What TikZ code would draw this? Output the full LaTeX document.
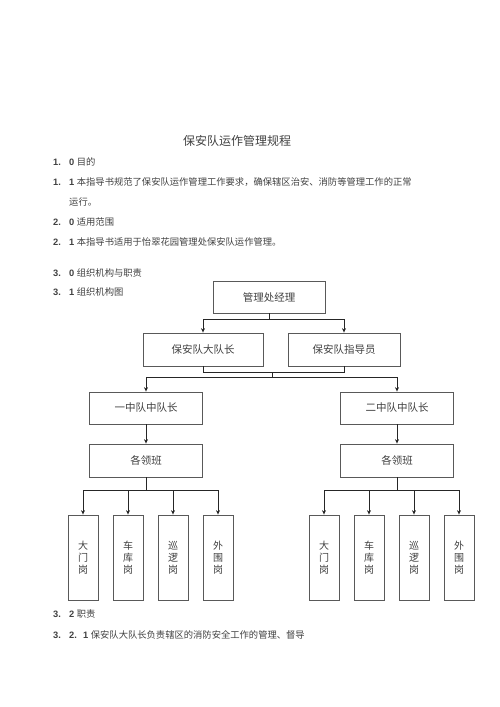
\documentclass[tikz,border=0pt]{standalone}
\usepackage{fontspec}
\setmainfont{Liberation Serif}
\newfontfamily\cjk{Noto Sans CJK SC}
\newfontfamily\numf{Liberation Sans}
\usetikzlibrary{arrows.meta}
\newcommand\nb[1]{\makebox[16pt][l]{\numf\bfseries #1}}
\newcommand\nd[1]{{\numf\bfseries #1}\hspace{2.5pt}}
\tikzset{
  x=1pt,y=-1pt,
  txt/.style={anchor=west,inner sep=0pt,font=\cjk\fontsize{9.3}{11}\selectfont,text=black!75},
  box/.style={draw=black!65,line width=0.8pt,inner sep=0pt,font=\cjk\fontsize{10.5}{12}\selectfont,text=black!75},
  tall/.style={box,minimum width=30pt,minimum height=85pt,align=center,font=\cjk\fontsize{10}{12}\selectfont},
  conn/.style={draw=black!85,line width=1pt},
  arr/.style={conn,-{Stealth[length=4.5pt,width=4pt]}}
}
\begin{document}
\begin{tikzpicture}
\useasboundingbox (0,0) rectangle (500,707);
% text
\node[anchor=center,inner sep=0pt,font=\cjk\fontsize{12}{14}\selectfont,text=black!75] (title) at (237,141) {保安队运作管理规程};
\node[txt] (t1) at (53,162) {\nb{1.}\nd{0}目的};
\node[txt] (t2) at (53,182) {\nb{1.}\nd{1}本指导书规范了保安队运作管理工作要求，确保辖区治安、消防等管理工作的正常};
\node[txt] (t3) at (69,202) {运行。};
\node[txt] (t4) at (53,222) {\nb{2.}\nd{0}适用范围};
\node[txt] (t5) at (53,242) {\nb{2.}\nd{1}本指导书适用于怡翠花园管理处保安队运作管理。};
\node[txt] (t6) at (53,273) {\nb{3.}\nd{0}组织机构与职责};
\node[txt] (t7) at (53,292) {\nb{3.}\nd{1}组织机构图};
\node[txt] (t8) at (53,614) {\nb{3.}\nd{2}职责};
\node[txt] (t9) at (53,635) {\nb{3.}\makebox[14pt][l]{\numf\bfseries 2.}\nd{1}保安队大队长负责辖区的消防安全工作的管理、督导};
% boxes
\node[box,minimum width=112pt,minimum height=32pt] (mgr) at (269,297) {管理处经理};
\node[box,minimum width=120pt,minimum height=33pt] (dd) at (203,349.5) {保安队大队长};
\node[box,minimum width=112pt,minimum height=33pt] (zd) at (344,349.5) {保安队指导员};
\node[box,minimum width=113pt,minimum height=32pt] (z1) at (146,408) {一中队中队长};
\node[box,minimum width=113pt,minimum height=32pt] (z2) at (397,408) {二中队中队长};
\node[box,minimum width=113pt,minimum height=33pt] (l1) at (146,460.5) {各领班};
\node[box,minimum width=113pt,minimum height=33pt] (l2) at (397,460.5) {各领班};
\node[tall] (a1) at (83,557.5) {大\\门\\岗};
\node[tall] (a2) at (128,557.5) {车\\库\\岗};
\node[tall] (a3) at (173,557.5) {巡\\逻\\岗};
\node[tall] (a4) at (218,557.5) {外\\围\\岗};
\node[tall] (b1) at (324,557.5) {大\\门\\岗};
\node[tall] (b2) at (369,557.5) {车\\库\\岗};
\node[tall] (b3) at (414,557.5) {巡\\逻\\岗};
\node[tall] (b4) at (459,557.5) {外\\围\\岗};
% connectors
\draw[arr] (mgr.south) -- ++(0,6) -| (dd.north);
\draw[arr] (mgr.south) -- ++(0,6) -| (zd.north);
\draw[conn] (dd.south) -- ++(0,6) -| (zd.south);
\coordinate (j2) at (272,372);
\draw[arr] (j2) -- ++(0,5) -| (z1.north);
\draw[arr] (j2) -- ++(0,5) -| (z2.north);
\draw[arr] (z1.south) -- (l1.north);
\draw[arr] (z2.south) -- (l2.north);
\foreach \t in {a1,a2,a3,a4} \draw[arr] (l1.south) -- ++(0,13) -| (\t.north);
\foreach \t in {b1,b2,b3,b4} \draw[arr] (l2.south) -- ++(0,13) -| (\t.north);
\end{tikzpicture}
\end{document}
